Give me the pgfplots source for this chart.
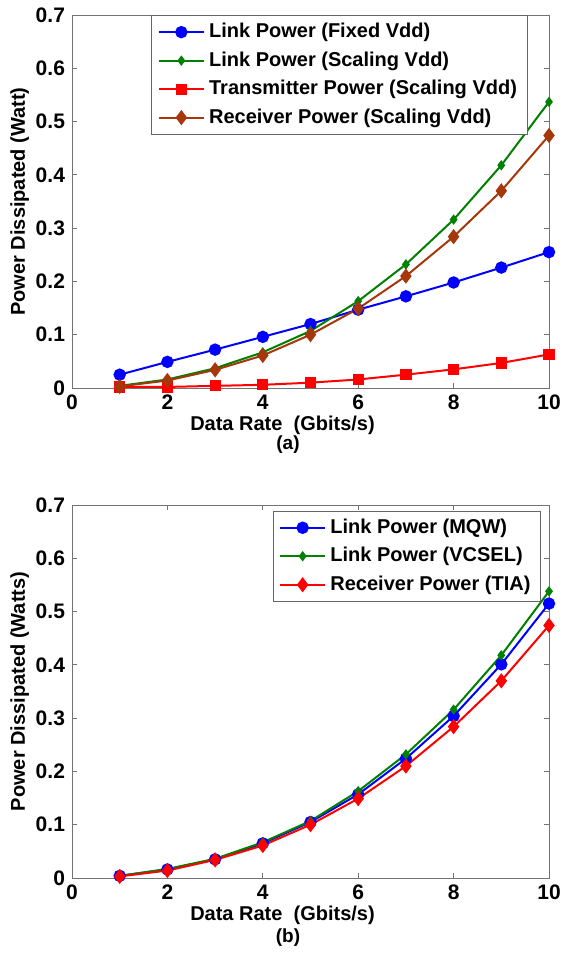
\documentclass[border=0pt]{standalone}
\usepackage{pgfplots}
\pgfplotsset{compat=1.18}
\usepackage{fontspec}
\setmainfont{Liberation Sans}

\definecolor{mblue}{RGB}{0,0,255}
\definecolor{mgreen}{RGB}{0,128,0}
\definecolor{mred}{RGB}{255,0,0}
\definecolor{mbrown}{RGB}{165,55,10}

\pgfplotsset{
  pw/.style={
    scale only axis, width=238.5pt, height=186.5pt,
    xmin=0, xmax=10, ymin=0, ymax=0.7,
    xtick={0,2,...,10}, ytick={0,0.1,...,0.7},
    tick align=inside, major tick length=2.5pt,
    axis line style={black!55},
    every tick/.style={black!55},
    /pgf/number format/assume math mode=true,
    /pgf/number format/fixed,
    /pgf/number format/precision=1,
    tick label style={font=\bfseries\fontsize{10.5}{12}\selectfont},
    label style={font=\bfseries\fontsize{10}{12}\selectfont},
    xlabel={Data Rate\ \ (Gbits/s)},
    xlabel style={yshift=4pt, xshift=-14pt},
    ylabel style={yshift=-3.5pt},
    legend cell align=left,
    legend style={font=\bfseries\fontsize{10}{11.5}\selectfont, draw=black!60,
      row sep=1.5pt, inner xsep=3pt, inner ysep=2pt},
    legend image code/.code={
      \draw[mark repeat=2,mark phase=2] plot coordinates {(0cm,0cm) (0.4cm,0cm) (0.8cm,0cm)};},
    every axis plot/.append style={line width=1pt},
  }
}

\begin{document}
\begin{tikzpicture}
\path (-36pt,7.5pt) rectangle (243pt,-469.5pt);

% (a)
\begin{axis}[pw, at={(0,0)}, anchor=north west,
  ylabel={Power Dissipated (Watt)},
  legend style={at={(0.166,1)}, anchor=north west}]
\addplot[color=mblue, mark=*, mark size=2.6pt] coordinates {
 (1,0.025) (2,0.049) (3,0.072) (4,0.096) (5,0.120)
 (6,0.147) (7,0.172) (8,0.198) (9,0.226) (10,0.255)};
\addplot[color=mgreen, mark=diamond*, mark size=1.8pt] coordinates {
 (1,0.004) (2,0.016) (3,0.037) (4,0.067) (5,0.107)
 (6,0.163) (7,0.232) (8,0.316) (9,0.418) (10,0.537)};
\addplot[color=mred, mark=square*, mark size=2.3pt] coordinates {
 (1,0.002) (2,0.002) (3,0.004) (4,0.006) (5,0.010)
 (6,0.016) (7,0.025) (8,0.035) (9,0.047) (10,0.063)};
\addplot[color=mbrown, mark=diamond*, mark size=3pt] coordinates {
 (1,0.003) (2,0.014) (3,0.034) (4,0.061) (5,0.100)
 (6,0.149) (7,0.210) (8,0.284) (9,0.370) (10,0.474)};
\legend{Link Power (Fixed Vdd),Link Power (Scaling Vdd),Transmitter Power (Scaling Vdd),Receiver Power (Scaling Vdd)}
\end{axis}
\node[font=\bfseries\fontsize{9.5}{11}\selectfont] at (108pt,-215pt) {(a)};

% (b)
\begin{axis}[pw, at={(0,-245pt)}, anchor=north west,
  ylabel={Power Dissipated (Watts)},
  legend style={at={(0.983,0.985)}, anchor=north east}]
\addplot[color=mblue, mark=*, mark size=2.6pt] coordinates {
 (1,0.004) (2,0.016) (3,0.035) (4,0.065) (5,0.105)
 (6,0.157) (7,0.224) (8,0.304) (9,0.401) (10,0.515)};
\addplot[color=mgreen, mark=diamond*, mark size=1.8pt] coordinates {
 (1,0.004) (2,0.017) (3,0.036) (4,0.067) (5,0.107)
 (6,0.163) (7,0.232) (8,0.316) (9,0.418) (10,0.538)};
\addplot[color=mred, mark=diamond*, mark size=3pt] coordinates {
 (1,0.003) (2,0.014) (3,0.034) (4,0.061) (5,0.100)
 (6,0.149) (7,0.210) (8,0.284) (9,0.370) (10,0.474)};
\legend{Link Power (MQW),Link Power (VCSEL),Receiver Power (TIA)}
\end{axis}
\node[font=\bfseries\fontsize{9.5}{11}\selectfont] at (108pt,-461.5pt) {(b)};
\end{tikzpicture}
\end{document}
